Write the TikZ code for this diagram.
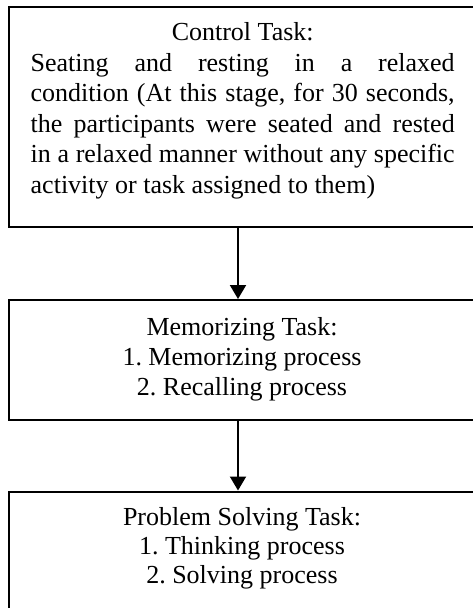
\documentclass[tikz,border=0pt]{standalone}
\usepackage{fontspec}
\setmainfont{Liberation Serif}
\usetikzlibrary{arrows.meta}
\frenchspacing
\begin{document}
\begin{tikzpicture}[x=1pt,y=-1pt,
  taskbox/.style={draw, line width=2pt, rectangle, inner sep=0pt},
  txt/.style={inner sep=0pt, font=\fontsize{26}{30}\selectfont},
  arr/.style={line width=2pt, -{Triangle[width=16pt,length=14pt]}}]
\useasboundingbox[fill=white] (0,0) rectangle (473,608);
\node[taskbox, minimum width=471pt, minimum height=220pt] (box1) at (244.5,117) {};
\node[taskbox, minimum width=471pt, minimum height=120pt] (box2) at (244.5,360) {};
\node[taskbox, minimum width=471pt, minimum height=148.5pt] (box3) at (244.5,565.75) {};
\node[txt, anchor=base west] (t1) at (30.5,40.7) {\parbox[t]{424pt}{\fontsize{26}{30.5}\selectfont
  \tolerance=10000 \hyphenpenalty=10000 \emergencystretch=50pt
  {\centering Control Task:\par}
  Seating and resting in a relaxed\linebreak
  condition (At this stage, for 30 seconds,\linebreak
  the participants were seated and rested\linebreak
  in a relaxed manner without any specific\linebreak
  activity or task assigned to them)}};
\node[txt, anchor=base] (t2) at (242,335) {\parbox[t]{320pt}{\centering\fontsize{26}{30}\selectfont
  Memorizing Task:\\ 1. Memorizing process\\ 2. Recalling process}};
\node[txt, anchor=base] (t3) at (242,525) {\parbox[t]{320pt}{\centering\fontsize{26}{29}\selectfont
  Problem Solving Task:\\ 1. Thinking process\\ 2. Solving process}};
\coordinate (ax) at (238,0);
\draw[arr] (box1.south -| ax) -- (box2.north -| ax);
\draw[arr] (box2.south -| ax) -- (box3.north -| ax);
\end{tikzpicture}
\end{document}
